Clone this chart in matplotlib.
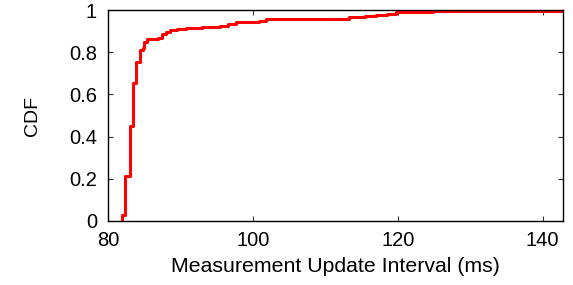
import matplotlib
matplotlib.use("Agg")
import matplotlib.pyplot as plt

interval_ms = [81.9, 81.9, 82.4, 83.0, 83.45, 83.9, 84.4, 84.8, 85.0, 85.4, 86.9, 87.4, 88.0,
               88.5, 89.5, 90.8, 93.0, 95.4, 96.5, 97.7, 100.9, 101.8, 108.7, 113.3, 115.5,
               117.0, 118.5, 119.8, 124.8, 142.8]
cdf = [0.0, 0.03, 0.214, 0.449, 0.654, 0.754, 0.81, 0.822, 0.846, 0.862, 0.868, 0.885, 0.895,
       0.903, 0.91, 0.917, 0.921, 0.925, 0.933, 0.941, 0.949, 0.955, 0.958, 0.966, 0.970,
       0.975, 0.983, 0.992, 0.997, 1.0]
x_ticks = [80, 100, 120, 140]
y_ticks = [0, 0.2, 0.4, 0.6, 0.8, 1]
y_tick_labels = ["0", "0.2", "0.4", "0.6", "0.8", "1"]

plt.rcParams['font.family'] = ['Liberation Sans', 'DejaVu Sans']
fig = plt.figure(figsize=(5.73, 2.85), dpi=100)
ax = fig.add_axes([108/573, 1 - 221/285, (563 - 108)/573, (221 - 10)/285])
ax.plot(interval_ms, cdf, drawstyle='steps-post', color='#ff0000', lw=2.2)
ax.set_xlim(80, 142.8)
ax.set_ylim(0, 1)
ax.set_xticks(x_ticks)
ax.set_yticks(y_ticks)
ax.set_yticklabels(y_tick_labels)
ax.tick_params(direction='in', top=True, right=True, length=3.6, width=0.8,
               color='#333333', labelsize=14.5)
ax.tick_params(axis='y', pad=8)
ax.tick_params(axis='x', pad=7)
for s in ax.spines.values():
    s.set_linewidth(1.0)
ax.set_xlabel("Measurement Update Interval (ms)", fontsize=15.3, labelpad=5)
ax.set_ylabel("CDF", fontsize=14, labelpad=20)
fig.savefig("out.png", dpi=100)
